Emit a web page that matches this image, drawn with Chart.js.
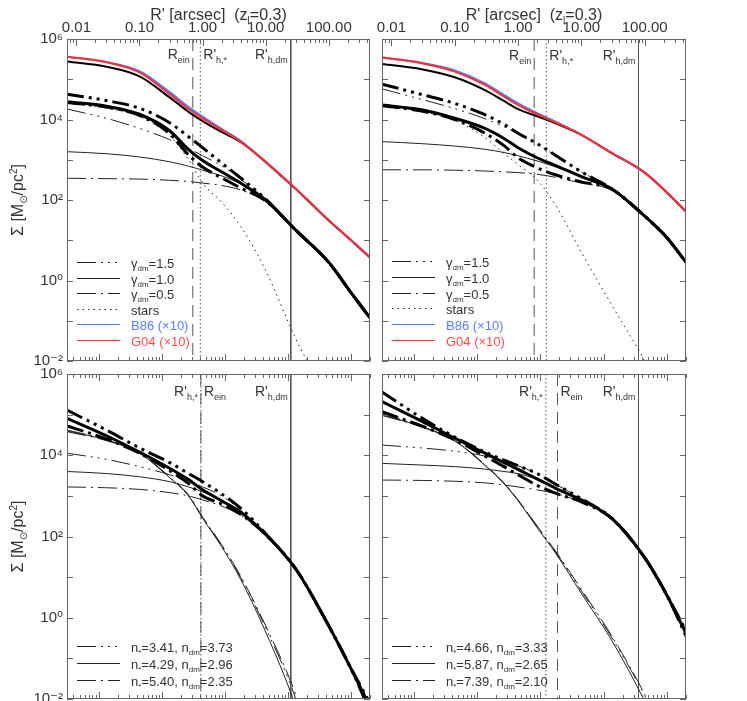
<!DOCTYPE html>
<html>
<head>
<meta charset="utf-8">
<title>Surface density profiles</title>
<script src="https://cdn.jsdelivr.net/npm/chart.js@4.4.1/dist/chart.umd.min.js"></script>
<style>
  html, body { margin: 0; padding: 0; background: #fff; }
  #page { position: relative; width: 747px; height: 701px; overflow: hidden; }
  #page canvas { position: absolute; }
</style>
</head>
<body>
<div id="page">
  <canvas id="tl" width="376" height="367" style="left:0;top:0"></canvas>
  <canvas id="tr" width="371" height="367" style="left:376px;top:0"></canvas>
  <canvas id="bl" width="376" height="334" style="left:0;top:367px"></canvas>
  <canvas id="br" width="371" height="334" style="left:376px;top:367px"></canvas>
</div>
<script>
const FONT = "'Liberation Sans', 'DejaVu Sans', sans-serif";
const TEXT = '#333';
Chart.defaults.font.family = FONT;
Chart.defaults.font.size = 15;
Chart.defaults.color = TEXT;

// radius grid (arcsec) shared by every curve
const R = [0.0071, 0.03, 0.1, 0.3, 0.6, 1, 2, 4, 10, 30, 100, 220, 450];

// log10 Sigma [Msun/pc^2]
// top left
const tlG04   = [5.56, 5.42, 5.17, 4.63, 4.26, 4.03, 3.74, 3.45, 2.95, 2.28, 1.50, 1.02, 0.58];
const tlB86   = [5.56, 5.43, 5.20, 4.68, 4.31, 4.07, 3.77, 3.47, 2.95, 2.28, 1.50, 1.02, 0.58];
const tlUpper = [5.44, 5.31, 5.07, 4.55, 4.19, 3.96, 3.69, 3.44, 2.94, 2.27, 1.49, 1.01, 0.57];
const tlTot15 = [4.63, 4.47, 4.28, 3.92, 3.57, 3.30, 2.92, 2.55, 2.02, 1.25, 0.45, -0.28, -0.93];
const tlTot10 = [4.44, 4.33, 4.13, 3.72, 3.25, 2.98, 2.70, 2.42, 2.00, 1.25, 0.45, -0.28, -0.93];
const tlTot05 = [4.42, 4.31, 4.10, 3.65, 3.12, 2.82, 2.55, 2.30, 1.98, 1.25, 0.45, -0.28, -0.93];
const tlDm15  = [4.26, 4.03, 3.78, 3.50, 3.28, 3.10, 2.85, 2.52, 2.00, 1.25, 0.45, -0.28, -0.93];
const tlDm10  = [3.20, 3.15, 3.07, 2.95, 2.84, 2.74, 2.60, 2.40, 2.00, 1.25, 0.45, -0.28, -0.93];
const tlDm05  = [2.54, 2.53, 2.52, 2.49, 2.46, 2.42, 2.36, 2.25, 1.97, 1.25, 0.45, -0.28, -0.93];
const tlStars = [4.40, 4.28, 4.08, 3.60, 3.00, 2.42, 1.95, 1.35, 0.25, -1.45, -3.00, -4.20, -5.50];
// top right
const trG04   = [5.54, 5.40, 5.19, 4.86, 4.57, 4.36, 4.13, 3.92, 3.62, 3.17, 2.68, 2.20, 1.71];
const trB86   = [5.54, 5.41, 5.22, 4.90, 4.61, 4.40, 4.16, 3.94, 3.62, 3.17, 2.68, 2.20, 1.71];
const trUpper = [5.38, 5.25, 5.05, 4.73, 4.46, 4.26, 4.08, 3.90, 3.62, 3.17, 2.68, 2.20, 1.71];
const trTot15 = [4.88, 4.62, 4.40, 4.12, 3.88, 3.66, 3.40, 3.10, 2.70, 2.28, 1.60, 1.08, 0.45];
const trTot10 = [4.36, 4.24, 4.03, 3.78, 3.53, 3.30, 3.05, 2.85, 2.58, 2.28, 1.60, 1.08, 0.45];
const trTot05 = [4.34, 4.21, 4.00, 3.66, 3.35, 3.05, 2.80, 2.62, 2.45, 2.27, 1.60, 1.08, 0.45];
const trDm15  = [4.76, 4.50, 4.27, 4.02, 3.82, 3.65, 3.38, 3.10, 2.70, 2.28, 1.60, 1.08, 0.45];
const trDm10  = [3.45, 3.40, 3.34, 3.26, 3.18, 3.10, 2.97, 2.82, 2.58, 2.28, 1.60, 1.08, 0.45];
const trDm05  = [2.75, 2.75, 2.74, 2.72, 2.70, 2.68, 2.64, 2.56, 2.42, 2.25, 1.60, 1.08, 0.45];
const trStars = [4.33, 4.20, 3.98, 3.55, 3.16, 2.88, 2.50, 1.85, 0.70, -0.60, -2.00, -3.10, -4.10];
// bottom left
const blTot1 = [5.11, 4.62, 4.18, 3.82, 3.55, 3.35, 3.05, 2.70, 2.07, 1.20, -0.20, -1.22, -2.30];
const blTot2 = [4.91, 4.48, 4.08, 3.68, 3.40, 3.15, 2.88, 2.60, 2.05, 1.20, -0.20, -1.22, -2.20];
const blTot3 = [4.72, 4.40, 4.05, 3.62, 3.30, 3.00, 2.80, 2.55, 2.05, 1.20, -0.20, -1.22, -2.10];
const blDm1  = [4.05, 3.90, 3.72, 3.52, 3.35, 3.22, 3.00, 2.65, 2.06, 1.20, -0.20, -1.22, -2.30];
const blDm2  = [3.60, 3.55, 3.47, 3.35, 3.22, 3.10, 2.88, 2.58, 2.05, 1.20, -0.20, -1.22, -2.20];
const blDm3  = [3.22, 3.20, 3.16, 3.08, 3.00, 2.90, 2.75, 2.52, 2.04, 1.20, -0.20, -1.22, -2.10];
const blSt1  = [4.62, 4.38, 4.05, 3.45, 3.00, 2.46, 1.78, 1.00, -0.25, -2.00, -4.80, -7.00, -9.00];
const blSt2  = [4.60, 4.37, 4.05, 3.45, 3.00, 2.45, 1.75, 0.95, -0.35, -2.20, -5.00, -7.00, -9.00];
const blSt3  = [4.58, 4.36, 4.05, 3.47, 3.02, 2.48, 1.80, 1.03, -0.20, -1.90, -4.60, -7.00, -9.00];
// bottom right
const brTot1 = [5.56, 4.92, 4.45, 4.08, 3.88, 3.74, 3.55, 3.28, 2.93, 2.45, 1.48, 0.58, -0.32];
const brTot2 = [5.32, 4.84, 4.42, 4.05, 3.82, 3.65, 3.42, 3.18, 2.90, 2.45, 1.48, 0.58, -0.38];
const brTot3 = [5.07, 4.72, 4.38, 3.98, 3.72, 3.52, 3.26, 3.06, 2.85, 2.45, 1.48, 0.58, -0.45];
const brDm1  = [4.25, 4.18, 4.10, 3.98, 3.85, 3.74, 3.55, 3.28, 2.93, 2.45, 1.48, 0.58, -0.32];
const brDm2  = [3.80, 3.76, 3.72, 3.66, 3.60, 3.55, 3.40, 3.18, 2.90, 2.45, 1.48, 0.58, -0.38];
const brDm3  = [3.39, 3.38, 3.36, 3.32, 3.27, 3.22, 3.15, 3.05, 2.85, 2.45, 1.48, 0.58, -0.45];
const brSt1  = [5.02, 4.71, 4.36, 3.76, 3.31, 2.90, 2.25, 1.60, 0.66, -0.48, -1.92, -3.10, -4.40];
const brSt2  = [5.00, 4.70, 4.35, 3.75, 3.30, 2.88, 2.22, 1.57, 0.60, -0.55, -2.05, -3.20, -4.50];
const brSt3  = [4.98, 4.70, 4.36, 3.77, 3.32, 2.90, 2.26, 1.62, 0.70, -0.44, -1.88, -3.00, -4.30];

// vertical markers (arcsec): R_ein, R'_h,*, R'_h,dm
const tlMarks = [0.70, 0.92, 25];
const trMarks = [1.80, 2.80, 80];
const blMarks = [0.94, 0.94, 25];
const brMarks = [4.20, 2.75, 80];

// legend values
const gammaValues = ['1.5', '1.0', '0.5'];
const blNStar = ['3.41', '4.29', '5.40'];
const blNDm   = ['3.73', '2.96', '2.35'];
const brNStar = ['4.66', '5.87', '7.39'];
const brNDm   = ['3.33', '2.65', '2.10'];

// axes
const xMin = 0.0071, xMax = 450;
const yMin = 1e-2, yMax = 1e6;
const arcsecTicks = [0.01, 0.1, 1, 10, 100];
const yLabelTicks = [1e-2, 1, 1e2, 1e4, 1e6];
const kpcPerArcsec = 4.45;

const FRAME = '#666';
const STYLES = {
  g04: { color: '#ff3030', width: 2, dash: [] },
  b86: { color: '#5079ff', width: 2, dash: [] },
  upper: { color: '#000000', width: 2, dash: [] },
  thickSolid: { color: '#000000', width: 3, dash: [] },
  thick3Dot: { color: '#000000', width: 3, dash: [17, 5, 3, 5, 3, 5, 3, 5] },
  thickDashDot: { color: '#000000', width: 3, dash: [17, 5, 3, 5] },
  thinSolid: { color: '#222222', width: 1, dash: [] },
  thin3Dot: { color: '#222222', width: 1, dash: [19, 5, 2, 5, 2, 5, 2, 5] },
  thinDashDot: { color: '#222222', width: 1, dash: [19, 5, 2, 5] },
  dotted: { color: '#222222', width: 1, dash: [1.5, 4] },
  markDash: { color: '#555555', width: 1, dash: [12, 7] },
  markDot: { color: '#555555', width: 1, dash: [1.5, 2.5] },
  markSolid: { color: '#555555', width: 1, dash: [] }
};

const SUP = { '-': '⁻', '0': '⁰', '1': '¹', '2': '²', '3': '³', '4': '⁴', '5': '⁵', '6': '⁶', '7': '⁷', '8': '⁸', '9': '⁹' };
function powLabel(v) {
  const e = Math.round(Math.log10(v));
  return '10' + String(e).split('').map(c => SUP[c]).join('');
}

const lbl = {
  ein: [['R', 'n'], ['ein', 'sub']],
  hStar: [["R'", 'n'], ['h,*', 'sub']],
  hDm: [["R'", 'n'], ['h,dm', 'sub']]
};

const gammaLegend = [
  { style: 'thin3Dot', parts: [['γ', 'n'], ['dm', 'sub'], ['=' + gammaValues[0], 'n']] },
  { style: 'thinSolid', parts: [['γ', 'n'], ['dm', 'sub'], ['=' + gammaValues[1], 'n']] },
  { style: 'thinDashDot', parts: [['γ', 'n'], ['dm', 'sub'], ['=' + gammaValues[2], 'n']] },
  { style: 'dotted', parts: [['stars', 'n']] },
  { style: 'b86', parts: [['B86 (×10)', 'n']], color: '#5a7dff' },
  { style: 'g04', parts: [['G04 (×10)', 'n']], color: '#ff4d4d' }
];

function sersicLegend(nStar, nDm) {
  const styles = ['thin3Dot', 'thinSolid', 'thinDashDot'];
  return styles.map((s, i) => ({
    style: s,
    parts: [['n', 'n'], ['*', 'sub'], ['=' + nStar[i] + ', n', 'n'], ['dm', 'sub'], ['=' + nDm[i], 'n']]
  }));
}

const panels = [
  {
    id: 'tl', top: true, left: true, pad: { left: 0, top: 0, right: 6, bottom: 6 },
    curves: [[tlG04, 'g04'], [tlB86, 'b86'], [tlUpper, 'upper'],
             [tlTot15, 'thick3Dot'], [tlTot10, 'thickSolid'], [tlTot05, 'thickDashDot'],
             [tlDm15, 'thin3Dot'], [tlDm10, 'thinSolid'], [tlDm05, 'thinDashDot'], [tlStars, 'dotted']],
    marks: [[tlMarks[0], 'markDash', lbl.ein, 'left'], [tlMarks[1], 'markDot', lbl.hStar, 'right'], [tlMarks[2], 'markSolid', lbl.hDm, 'left']],
    legend: gammaLegend, legendY: 223, legendStep: 15.6, markY: 20
  },
  {
    id: 'tr', top: true, left: false, pad: { left: 6, top: 0, right: 61, bottom: 6 },
    curves: [[trG04, 'g04'], [trB86, 'b86'], [trUpper, 'upper'],
             [trTot15, 'thick3Dot'], [trTot10, 'thickSolid'], [trTot05, 'thickDashDot'],
             [trDm15, 'thin3Dot'], [trDm10, 'thinSolid'], [trDm05, 'thinDashDot'], [trStars, 'dotted']],
    marks: [[trMarks[0], 'markDash', lbl.ein, 'left'], [trMarks[1], 'markDot', lbl.hStar, 'right'], [trMarks[2], 'markSolid', lbl.hDm, 'left']],
    legend: gammaLegend, legendY: 222, legendStep: 15.8, markY: 21
  },
  {
    id: 'bl', top: false, left: true, pad: { left: 0, top: 7, right: 6, bottom: 2 },
    curves: [[blTot1, 'thick3Dot'], [blTot2, 'thickSolid'], [blTot3, 'thickDashDot'],
             [blDm1, 'thin3Dot'], [blDm2, 'thinSolid'], [blDm3, 'thinDashDot'],
             [blSt1, 'thin3Dot'], [blSt2, 'thinSolid'], [blSt3, 'thinDashDot']],
    marks: [[blMarks[0], 'markDash', lbl.ein, 'right'], [blMarks[1], 'markDot', lbl.hStar, 'left'], [blMarks[2], 'markSolid', lbl.hDm, 'left']],
    legend: sersicLegend(blNStar, blNDm), legendY: 271.5, legendStep: 17, markY: 22
  },
  {
    id: 'br', top: false, left: false, pad: { left: 6, top: 7, right: 61, bottom: 2 },
    curves: [[brTot1, 'thick3Dot'], [brTot2, 'thickSolid'], [brTot3, 'thickDashDot'],
             [brDm1, 'thin3Dot'], [brDm2, 'thinSolid'], [brDm3, 'thinDashDot'],
             [brSt1, 'thin3Dot'], [brSt2, 'thinSolid'], [brSt3, 'thinDashDot']],
    marks: [[brMarks[0], 'markDash', lbl.ein, 'right'], [brMarks[1], 'markDot', lbl.hStar, 'left'], [brMarks[2], 'markSolid', lbl.hDm, 'left']],
    legend: sersicLegend(brNStar, brNDm), legendY: 271.5, legendStep: 17, markY: 22
  }
];
const panelById = {};
panels.forEach(p => { panelById[p.id] = p; });

function drawRich(ctx, parts, x, y, size, align, color) {
  const sub = Math.round(size * 0.65);
  let w = 0;
  parts.forEach(([t, k]) => {
    ctx.font = (k === 'n' ? size : sub) + 'px ' + FONT;
    w += ctx.measureText(t).width;
  });
  let cx = align === 'right' ? x - w : align === 'center' ? x - w / 2 : x;
  ctx.fillStyle = color;
  ctx.textAlign = 'left';
  ctx.textBaseline = 'alphabetic';
  parts.forEach(([t, k]) => {
    ctx.font = (k === 'n' ? size : sub) + 'px ' + FONT;
    const dy = k === 'sub' ? size * 0.25 : k === 'sup' ? -size * 0.4 : 0;
    ctx.fillText(t, cx, y + dy);
    cx += ctx.measureText(t).width;
  });
}

function xTickMarks(ctx, xs, edgeY, dir, factor) {
  for (let e = -4; e <= 4; e++) {
    for (let m = 1; m <= 9; m++) {
      const v = m * Math.pow(10, e) / factor;
      if (v < xs.min || v > xs.max) continue;
      const px = Math.round(xs.getPixelForValue(v)) + 0.5;
      ctx.moveTo(px, edgeY);
      ctx.lineTo(px, edgeY + dir * (m === 1 ? 7 : 4));
    }
  }
}

const decorPlugin = {
  id: 'decor',
  afterDraw(chart) {
    const p = panelById[chart.canvas.id];
    const { ctx, chartArea: a } = chart;
    const xs = chart.scales.x, ys = chart.scales.y;
    ctx.save();
    ctx.setLineDash([]);
    ctx.lineWidth = 1;
    ctx.strokeStyle = FRAME;
    ctx.strokeRect(Math.round(a.left) + 0.5, Math.round(a.top) + 0.5,
                   Math.round(a.right - a.left) - 1, Math.round(a.bottom - a.top) - 1);

    ctx.beginPath();
    for (let e = -2; e <= 6; e++) {
      const py = Math.round(ys.getPixelForValue(Math.pow(10, e))) + 0.5;
      ctx.moveTo(a.left, py); ctx.lineTo(a.left + 6, py);
      ctx.moveTo(a.right - 6, py); ctx.lineTo(a.right, py);
    }
    xTickMarks(ctx, xs, a.top, 1, p.top ? 1 : kpcPerArcsec);
    xTickMarks(ctx, xs, a.bottom, -1, kpcPerArcsec);
    ctx.stroke();

    // marker labels
    p.marks.forEach(([v, , parts, side]) => {
      const px = xs.getPixelForValue(v);
      drawRich(ctx, parts, side === 'left' ? px - 3 : px + 3, a.top + p.markY, 14,
               side === 'left' ? 'right' : 'left', TEXT);
    });

    // legend
    p.legend.forEach((row, i) => {
      const y = Math.round(a.top + p.legendY + i * p.legendStep) + 0.5;
      const st = STYLES[row.style];
      ctx.beginPath();
      ctx.setLineDash(st.dash);
      ctx.strokeStyle = st.color;
      ctx.lineWidth = 1;
      ctx.moveTo(a.left + 10, y);
      ctx.lineTo(a.left + 53, y);
      ctx.stroke();
      ctx.setLineDash([]);
      drawRich(ctx, row.parts, a.left + 64, y + 5, 13, 'left', row.color || TEXT);
    });

    // axis titles
    if (p.top) {
      drawRich(ctx, [["R' [arcsec]  (z", 'n'], ['l', 'sub'], ['=0.3)', 'n']],
               (a.left + a.right) / 2, 20, 16, 'center', TEXT);
    }
    if (p.left) {
      ctx.translate(23, (a.top + a.bottom) / 2);
      ctx.rotate(-Math.PI / 2);
      drawRich(ctx, [['Σ [M', 'n'], ['⊙', 'sub'], ['/pc', 'n'], ['2', 'sup'], [']', 'n']],
               0, 0, 16, 'center', TEXT);
    }
    ctx.restore();
  }
};

function curve(vals, style) {
  const st = STYLES[style];
  return {
    data: R.map((r, i) => ({ x: r, y: Math.pow(10, vals[i]) })),
    borderColor: st.color, borderWidth: st.width, borderDash: st.dash,
    cubicInterpolationMode: 'monotone', pointRadius: 0, fill: false
  };
}

function vline(value, style) {
  const st = STYLES[style];
  return {
    data: [{ x: value, y: yMax }, { x: value, y: yMin }],
    borderColor: st.color, borderWidth: st.width, borderDash: st.dash,
    tension: 0, pointRadius: 0, fill: false
  };
}

function makeChart(p) {
  const ctx = document.getElementById(p.id).getContext('2d');
  return new Chart(ctx, {
    type: 'line',
    data: {
      datasets: [
        ...p.curves.map(([v, s]) => curve(v, s)),
        ...p.marks.map(([v, s]) => vline(v, s))
      ]
    },
    options: {
      responsive: false,
      animation: false,
      devicePixelRatio: 1,
      events: [],
      layout: { padding: p.pad },
      plugins: { legend: { display: false }, tooltip: { enabled: false } },
      scales: {
        x: {
          type: 'logarithmic', position: 'top', min: xMin, max: xMax,
          display: p.top,
          grid: { display: false, drawTicks: false }, border: { display: false },
          ticks: { autoSkip: false, maxRotation: 0, padding: 2, font: { size: 15 },
                   callback: v => Number(v).toFixed(2) },
          afterBuildTicks: s => { s.ticks = arcsecTicks.map(v => ({ value: v })); },
          afterFit: s => { s.height = p.top ? 39 : 0; s.paddingLeft = 0; s.paddingRight = 0; }
        },
        y: {
          type: 'logarithmic', position: 'left', min: yMin, max: yMax,
          display: p.left,
          grid: { display: false, drawTicks: false }, border: { display: false },
          ticks: { autoSkip: false, padding: 4, font: { size: 15 }, callback: v => powLabel(v) },
          afterBuildTicks: s => { s.ticks = yLabelTicks.map(v => ({ value: v })); },
          afterFit: s => { s.width = p.left ? 67 : 0; s.paddingTop = 0; s.paddingBottom = 0; }
        }
      }
    },
    plugins: [decorPlugin]
  });
}

panels.forEach(makeChart);
</script>
</body>
</html>
